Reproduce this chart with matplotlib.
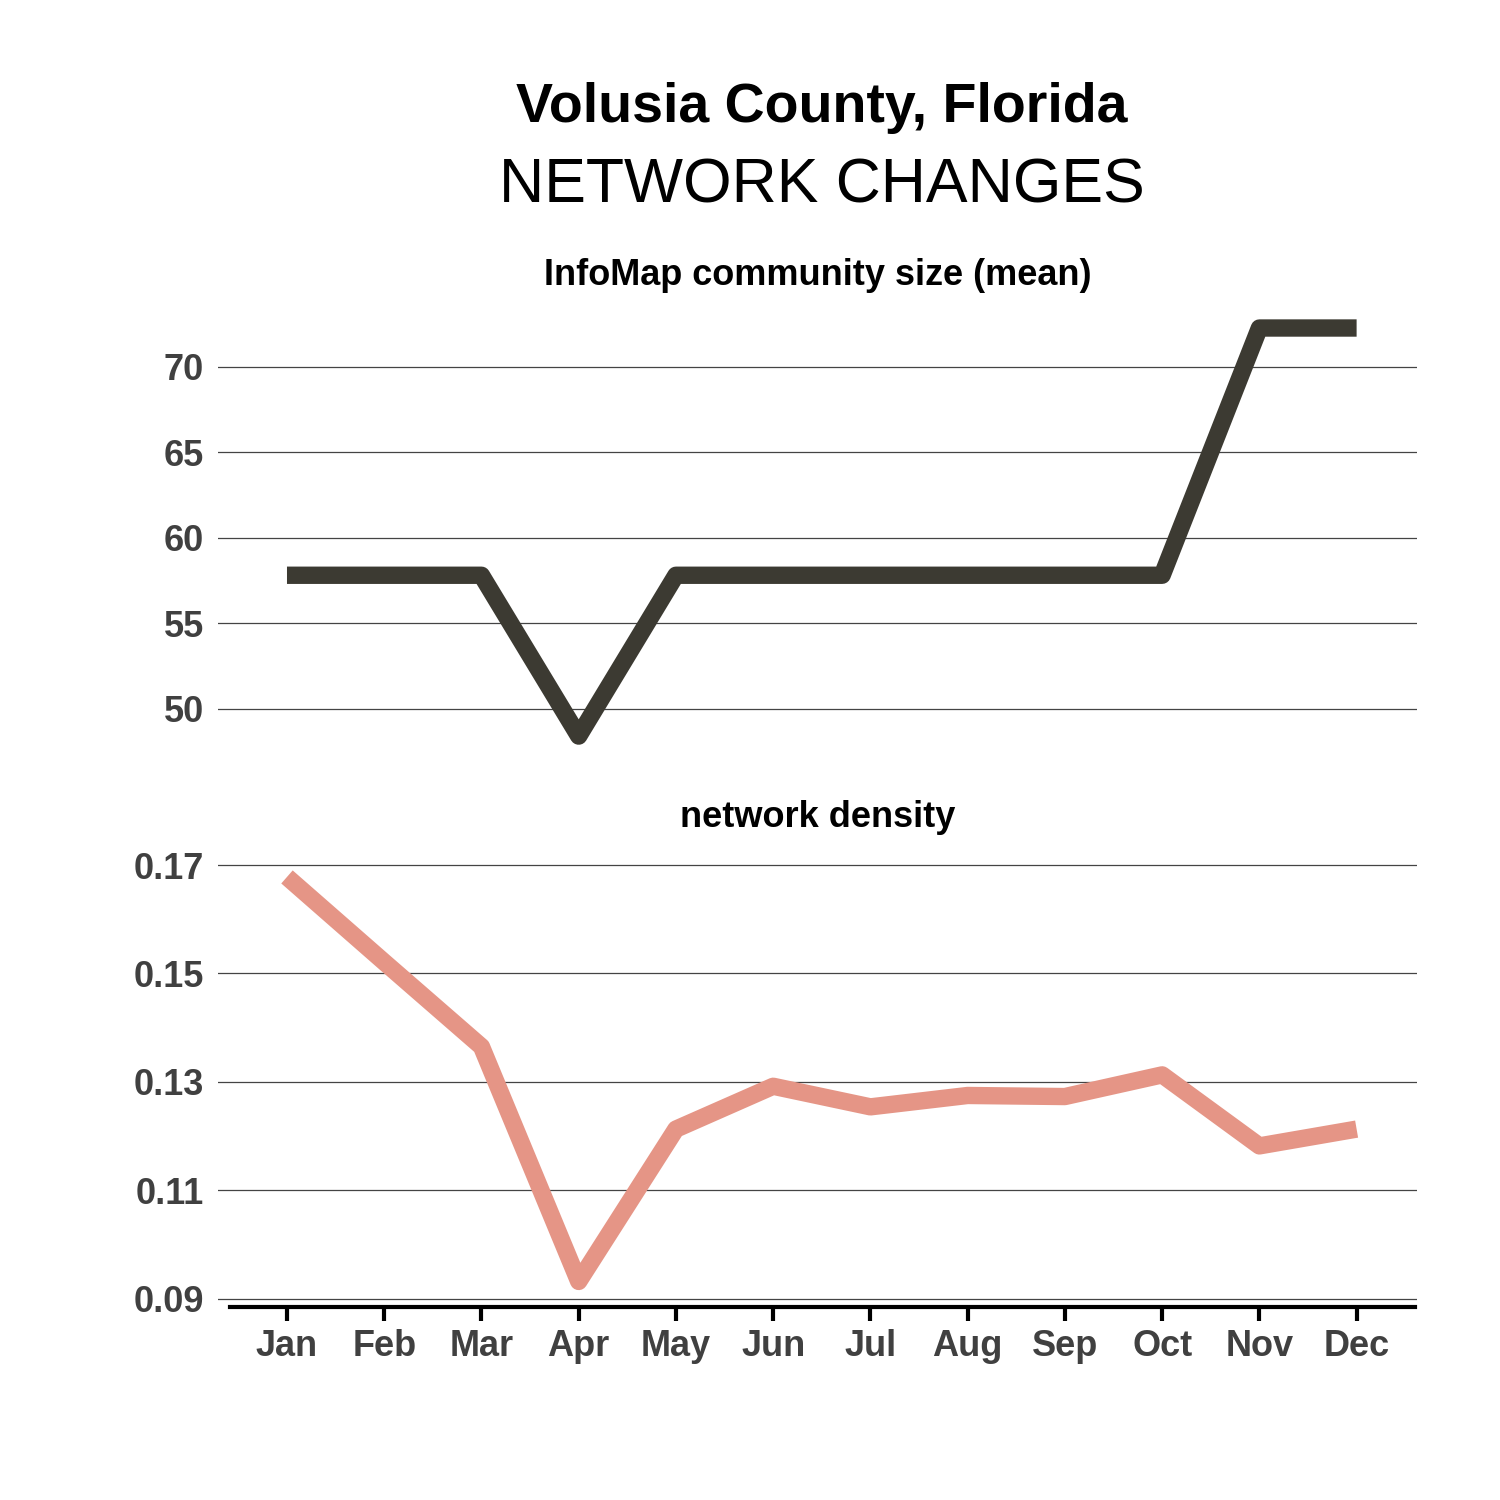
import numpy as np
import matplotlib.pyplot as plt

plt.rcParams['font.family'] = ['Liberation Sans', 'DejaVu Sans']

months = ['Jan', 'Feb', 'Mar', 'Apr', 'May', 'Jun', 'Jul', 'Aug', 'Sep', 'Oct', 'Nov', 'Dec']
community_size = [57.8, 57.8, 57.8, 48.4, 57.8, 57.8, 57.8, 57.8, 57.8, 57.8, 72.25, 72.25]
density = [0.1678, 0.1521, 0.1365, 0.0932, 0.1213, 0.1292, 0.1254, 0.1275, 0.1273, 0.1313, 0.1182, 0.1213]
size_ticks = [50, 55, 60, 65, 70]
density_ticks = [0.09, 0.11, 0.13, 0.15, 0.17]

x = np.arange(1, 13)
label_color = '#404040'

fig = plt.figure(figsize=(15, 15), dpi=100)
ax1 = fig.add_axes([0.1453, 0.4933, 0.7993, 0.30])
ax2 = fig.add_axes([0.1453, 0.1287, 0.7993, 0.308])

ax1.plot(x, community_size, color='#3C3A32', lw=12.5, solid_capstyle='butt', solid_joinstyle='round')
ax2.plot(x, density, color='#E59586', lw=12.5, solid_capstyle='butt', solid_joinstyle='round')

for ax, ticks in [(ax1, size_ticks), (ax2, density_ticks)]:
    ax.set_xlim(0.29, 12.62)
    ax.set_yticks(ticks)
    ax.grid(axis='y', color='#444444', lw=0.9)
    ax.set_axisbelow(True)
    for s in ['top', 'right', 'left']:
        ax.spines[s].set_visible(False)
    ax.tick_params(axis='y', length=0, labelsize=26, labelcolor=label_color, pad=10)

ax1.set_ylim(47.0, 73.3)
ax1.set_yticklabels([str(t) for t in size_ticks], fontweight='bold')
ax1.spines['bottom'].set_visible(False)
ax1.set_xticks([])

ax2.set_ylim(0.0885, 0.1737)
ax2.set_yticklabels(['%.2f' % t for t in density_ticks], fontweight='bold')
ax2.spines['bottom'].set_linewidth(3)
ax2.spines['bottom'].set_bounds(0.41, 12.6)
ax2.set_xticks(x)
ax2.set_xticklabels(months, fontsize=26, fontweight='bold', color=label_color)
ax2.tick_params(axis='x', length=10, width=3, pad=6)

ax1.set_title('InfoMap community size (mean)', fontsize=26, fontweight='bold', pad=18)
ax2.set_title('network density', fontsize=26, fontweight='bold', pad=13)

fig.text(0.548, 0.928, 'Volusia County, Florida', ha='center', va='center', fontsize=40, fontweight='bold')
fig.text(0.548, 0.876, 'NETWORK CHANGES', ha='center', va='center', fontsize=45)

fig.savefig('out.png', dpi=100, facecolor='white')
